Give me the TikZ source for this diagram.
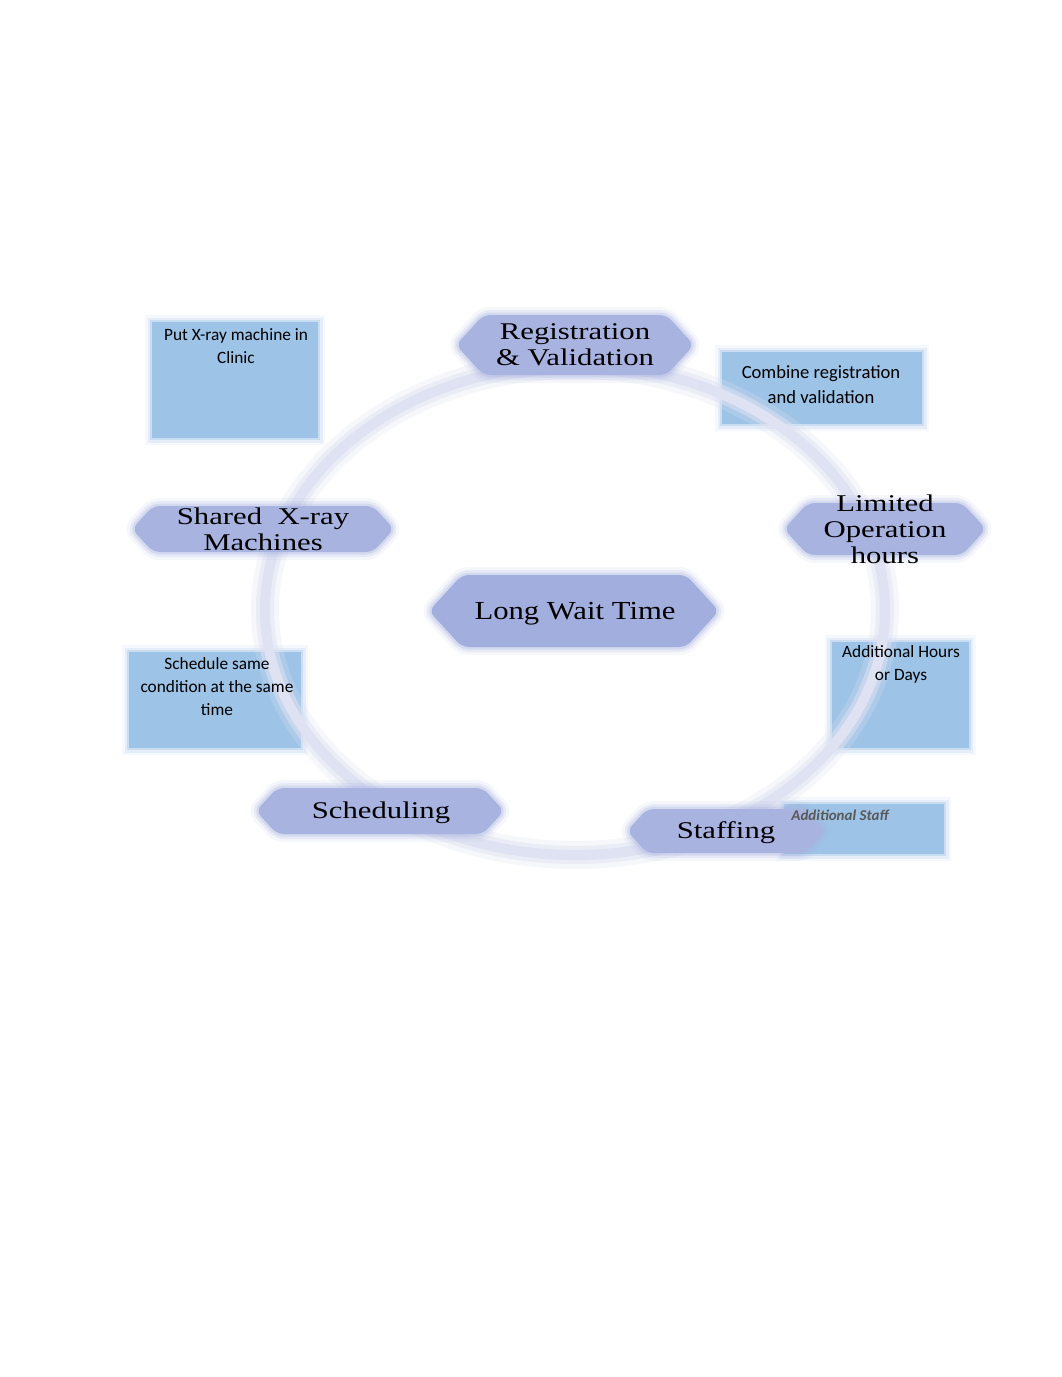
\documentclass[tikz,border=0pt]{standalone}
\usepackage{fontspec}
\setmainfont{Liberation Serif}
\newfontfamily\lozFont[FakeStretch=1.28]{Liberation Serif}
\newfontfamily\hubFont[FakeStretch=1.18]{Liberation Serif}
\newfontfamily\boxFont{Carlito}
\usepackage{tikz}
\usetikzlibrary{shapes.symbols}
\definecolor{hubBlue}{HTML}{A2AEDD}
\definecolor{lozBlue}{HTML}{A8B3E0}
\definecolor{boxBlue}{HTML}{9DC3E6}
\definecolor{ringLav}{HTML}{DFE2F2}
\definecolor{staffGray}{HTML}{595959}

\begin{document}
\begin{tikzpicture}[x=1pt, y=-1pt,
    lozenge/.style={signal, signal to=east and west, signal pointer angle=95, rounded corners=7pt, fill=lozBlue, inner sep=0pt,
        preaction={draw=lozBlue, line width=16pt, draw opacity=.1},
        preaction={draw=lozBlue, line width=10pt, draw opacity=.18},
        preaction={draw=lozBlue, line width=5pt, draw opacity=.3}},
    noteBox/.style={rectangle, fill=boxBlue, inner sep=0pt,
        preaction={draw=boxBlue, line width=14pt, draw opacity=.1},
        preaction={draw=boxBlue, line width=9pt, draw opacity=.18},
        preaction={draw=boxBlue, line width=4pt, draw opacity=.35}},
    lozText/.style={font=\lozFont\fontsize{24}{26}\selectfont, align=center, inner sep=0pt},
    boxText/.style={font=\boxFont\fontsize{17.3}{23}\selectfont, align=center, inner sep=0pt, anchor=north}
]
    \fill[white] (0,0) rectangle (1062,1377);

    % note boxes behind the ring
    \node[noteBox, minimum width=166pt, minimum height=116pt] (clinicBox) at (235,380) {};
    \node[noteBox, minimum width=200pt, minimum height=72pt] (combineBox) at (822,388) {};
    \node[noteBox, minimum width=137pt, minimum height=106pt] (hoursBox) at (900,695) {};
    \node[noteBox, minimum width=172pt, minimum height=96pt] (schedBox) at (215,700) {};
    \node[noteBox, minimum width=160pt, minimum height=50pt] (staffBox) at (864,829) {};

    % the ring
    \draw[draw=ringLav, line width=10pt,
        preaction={draw=ringLav, line width=28pt, draw opacity=.25},
        preaction={draw=ringLav, line width=18pt, draw opacity=.5}]
        (575,610) ellipse [x radius=310, y radius=245];

    % causes around the ring
    \node[lozenge, minimum width=238pt, minimum height=60pt] (regval) at (575,345) {};
    \node[lozenge, minimum width=202pt, minimum height=52pt] (limHours) at (885,529) {};
    \node[lozenge, minimum width=198pt, minimum height=44pt] (staffing) at (726,831) {};
    \node[lozenge, minimum width=248pt, minimum height=46pt] (sched) at (380,811) {};
    \node[lozenge, minimum width=262pt, minimum height=46pt] (xray) at (263,529) {};

    % the problem
    \node[lozenge, fill=hubBlue, minimum width=290pt, minimum height=72pt] (lwt) at (574,611) {};

    % labels
    \node[lozText] (regvalTxt) at (regval) {Registration\\\& Validation};
    \node[lozText] (limHoursTxt) at (limHours) {Limited\\Operation\\hours};
    \node[lozText] (staffingTxt) at (726,833) {Staffing};
    \node[lozText] (schedTxt) at (381,813) {Scheduling};
    \node[lozText] (xrayTxt) at (xray) {Shared\ \ X-ray\\Machines};
    \node[lozText, font=\hubFont\fontsize{26}{28}\selectfont] (lwtTxt) at (575,614) {Long Wait Time};

    \node[boxText] (clinicTxt) at (236,328) {Put X-ray machine in\\Clinic};
    \node[boxText, font=\boxFont\fontsize{18.6}{25}\selectfont] (combineTxt) at (821,365) {Combine registration\\and validation};
    \node[boxText] (hoursTxt) at (901,645) {Additional Hours\\or Days};
    \node[boxText] (schedTxt2) at (217,657) {Schedule same\\condition at the same\\time};
    \node[font=\boxFont\bfseries\itshape\fontsize{15}{16}\selectfont, text=staffGray, inner sep=0pt] (staffTxt) at (840,815) {Additional Staff};
\end{tikzpicture}
\end{document}
